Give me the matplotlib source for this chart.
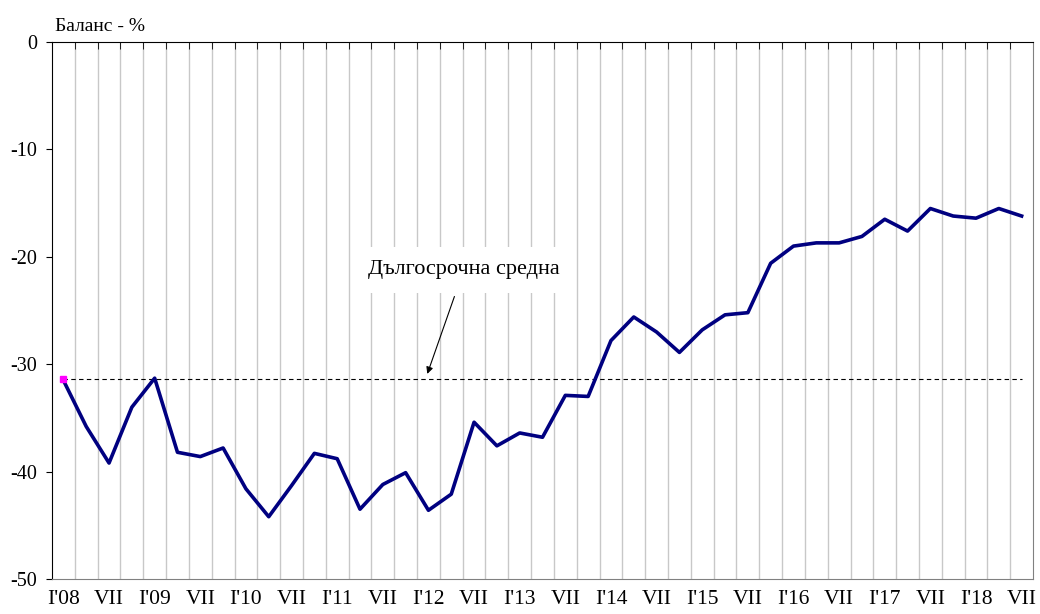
import matplotlib
matplotlib.use("Agg")
import matplotlib.pyplot as plt

plt.rcParams['font.family'] = ['Liberation Serif', 'DejaVu Serif']

# quarterly balance, I'08 .. VII'18
balance = [-31.5, -35.8, -39.2, -34.0, -31.3, -38.2, -38.6, -37.8, -41.6, -44.2,
           -41.3, -38.3, -38.8, -43.5, -41.2, -40.1, -43.6, -42.1, -35.4, -37.6,
           -36.4, -36.8, -32.9, -33.0, -27.8, -25.6, -27.0, -28.9, -26.8, -25.4,
           -25.2, -20.6, -19.0, -18.7, -18.7, -18.1, -16.5, -17.6, -15.5, -16.2,
           -16.4, -15.5, -16.2]
long_term_avg = -31.4
tick_labels = ["I'08", "VII", "I'09", "VII", "I'10", "VII", "I'11", "VII",
               "I'12", "VII", "I'13", "VII", "I'14", "VII", "I'15", "VII",
               "I'16", "VII", "I'17", "VII", "I'18", "VII"]

n = len(balance)
x = list(range(n))

fig = plt.figure(figsize=(10.4, 6.14), dpi=100)
ax = fig.add_axes([0.05, 0.057, 0.9433, 0.8745])

ax.plot(x, [long_term_avg] * n, color='black', lw=0.8, dashes=(4, 3), zorder=2)
ax.plot(x[0], long_term_avg, marker='s', color='#ff00ff', markersize=4.5,
        zorder=4, linestyle='none')
ax.plot(x, balance, color='#000080', lw=2.6, zorder=3)

ax.set_xlim(-0.5, n - 0.5)
ax.set_ylim(-50, 0)
ax.set_yticks([0, -10, -20, -30, -40, -50])
ax.set_yticklabels(['0', '-10', '-20', '-30', '-40', '-50'], fontsize=14.5)

ax.set_xticks(x[::2])
ax.set_xticklabels(tick_labels, fontsize=15.5)
ax.set_xticks([i + 0.5 for i in range(n - 1)], minor=True)
ax.tick_params(axis='x', which='major', length=0, pad=8)
ax.tick_params(axis='x', which='minor', bottom=False, top=True,
               direction='in', length=5, color='black')
ax.tick_params(axis='y', direction='out', length=4.5, pad=6)
ax.grid(axis='x', which='minor', color='#c8c8c8', lw=1, zorder=0)

for side in ['top', 'left']:
    ax.spines[side].set_color('black')
for side in ['bottom', 'right']:
    ax.spines[side].set_color('#808080')

ax.annotate('Дългосрочна средна', xy=(15.95, -30.9), xytext=(17.55, -21.2),
            ha='center', va='center', fontsize=16,
            bbox=dict(boxstyle='square,pad=0.6', fc='white', ec='none'),
            arrowprops=dict(arrowstyle='-|>', color='black', lw=0.8,
                            shrinkA=3, shrinkB=0, mutation_scale=10))

fig.text(0.053, 0.957, 'Баланс - %', fontsize=14, ha='left', va='center')

fig.savefig('out.png', dpi=100)
